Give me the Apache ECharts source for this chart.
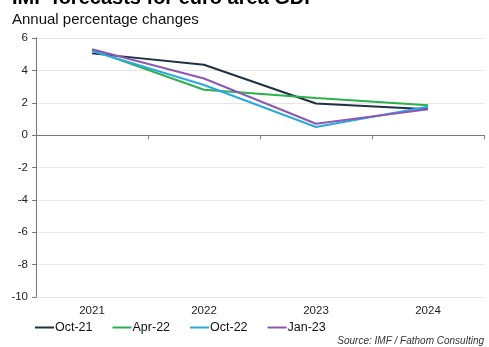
<!DOCTYPE html>
<html><head><meta charset="utf-8">
<script src="https://cdn.jsdelivr.net/npm/echarts@6/dist/echarts.min.js"></script>
<style>html,body{margin:0;padding:0;background:#fff}#c{width:489px;height:347px}</style>
</head><body><div id="c"></div>
<script>
const categories = ['2021', '2022', '2023', '2024'];
const oct21 = [5.05, 4.35, 1.95, 1.6];
const apr22 = [5.25, 2.8, 2.3, 1.85];
const oct22 = [5.2, 3.1, 0.5, 1.75];
const jan23 = [5.3, 3.5, 0.7, 1.6];
const yTicks = [-10, -8, -6, -4, -2, 0, 2, 4, 6];

const font = 'Liberation Sans, Arial, sans-serif';
const chart = echarts.init(document.getElementById('c'));
function line(name, data, color) {
  return { name, type: 'line', data, xAxisIndex: 0, symbol: 'none',
    lineStyle: { color, width: 2 }, itemStyle: { color } };
}
chart.setOption({
  animation: false,
  textStyle: { fontFamily: font },
  graphic: [
    { type: 'text', left: 12, top: -12, style: { text: 'IMF forecasts for euro area GDP', font: 'bold 20px ' + font, fill: '#000' } },
    { type: 'text', left: 12, top: 12, style: { text: 'Annual percentage changes', font: '15px ' + font, fill: '#111' } },
    { type: 'text', right: 5, top: 336, style: { text: 'Source: IMF / Fathom Consulting', font: 'italic 10px ' + font, fill: '#333' } }
  ],
  legend: {
    left: 30, top: 316, icon: 'rect', itemWidth: 19, itemHeight: 2, itemGap: 20,
    textStyle: { fontSize: 12.5, color: '#111', padding: [0, 0, 0, -4] },
    data: ['Oct-21', 'Apr-22', 'Oct-22', 'Jan-23']
  },
  grid: { left: 36, right: 5, top: 38, bottom: 50 },
  xAxis: [
    { type: 'category', data: categories, boundaryGap: true, position: 'bottom',
      axisLine: { show: false, onZero: false }, axisTick: { show: false },
      axisLabel: { fontSize: 11.5, color: '#222', margin: 8 } },
    { type: 'category', data: categories, boundaryGap: true, position: 'bottom',
      axisLine: { show: true, onZero: true, lineStyle: { color: '#777', width: 1 } },
      axisTick: { show: true, length: 4, lineStyle: { color: '#777' } },
      axisLabel: { show: false } }
  ],
  yAxis: {
    type: 'value', min: -10, max: 6, interval: 2,
    axisLine: { show: true, lineStyle: { color: '#777' } },
    axisTick: { show: true, length: 4, lineStyle: { color: '#777' } },
    axisLabel: { fontSize: 11.5, color: '#222', margin: 8,
      formatter: v => yTicks.includes(v) ? String(v) : '' },
    splitLine: { show: true, lineStyle: { color: '#e6e6e6', width: 1 } }
  },
  series: [
    line('Oct-21', oct21, '#1e3044'),
    line('Apr-22', apr22, '#2bb04a'),
    line('Oct-22', oct22, '#2aa9e0'),
    line('Jan-23', jan23, '#8c58b4')
  ]
});
</script></body></html>
